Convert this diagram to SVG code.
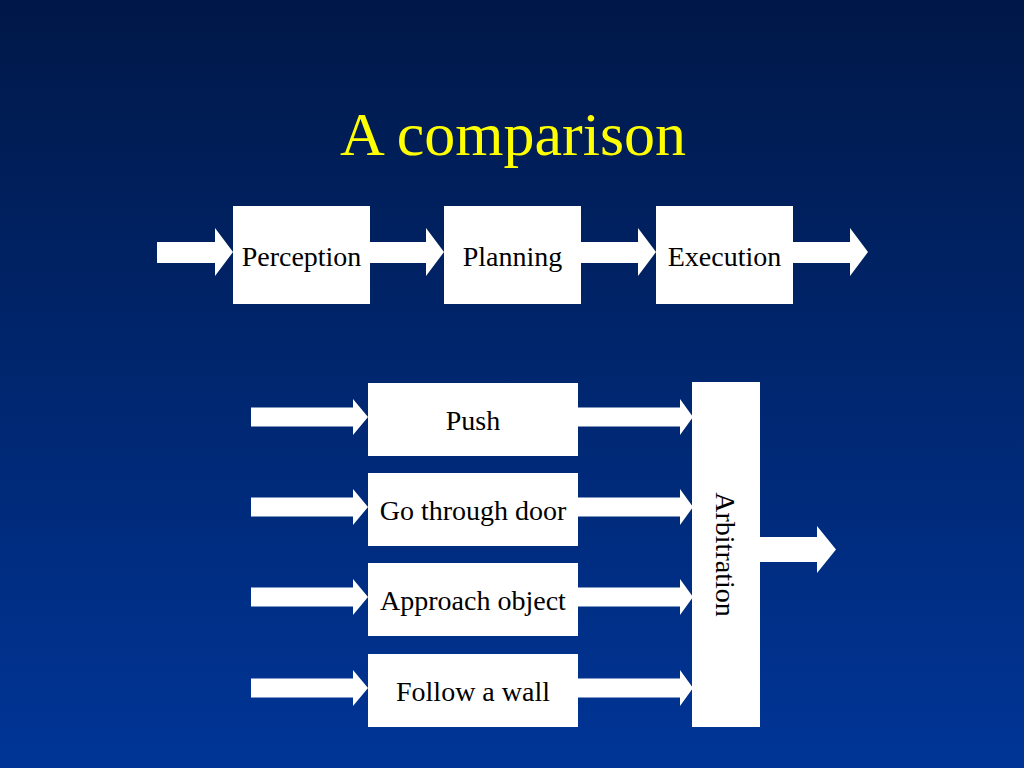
<svg xmlns="http://www.w3.org/2000/svg" width="1024" height="768" viewBox="0 0 1024 768">
  <defs>
    <linearGradient id="bg" x1="0" y1="0" x2="0" y2="1">
      <stop offset="0" stop-color="#001848"/>
      <stop offset="1" stop-color="#003597"/>
    </linearGradient>
  </defs>
  <style>
    .box { fill: #ffffff; }
    .arrow { fill: #ffffff; }
    .lbl { font-family: "Liberation Serif", "Times New Roman", serif; font-size: 28px; fill: #000000; text-anchor: middle; }
    .title { font-family: "Liberation Serif", "Times New Roman", serif; font-size: 62px; fill: #ffff00; text-anchor: middle; }
  </style>
  <rect x="0" y="0" width="1024" height="768" fill="url(#bg)"/>
  <text class="title" x="513" y="155">A comparison</text>

  <g id="connectors">
    <polygon class="arrow" points="157,242 215,242 215,228 233,252 215,276 215,263 157,263"/>
    <polygon class="arrow" points="370,242 426,242 426,228 444,252 426,276 426,263 370,263"/>
    <polygon class="arrow" points="581,242 638,242 638,228 656,252 638,276 638,263 581,263"/>
    <polygon class="arrow" points="793,242 850,242 850,228 868,252 850,276 850,263 793,263"/>

    <polygon class="arrow" points="251,407.5 353,407.5 353,399 368,417 353,435 353,426.5 251,426.5"/>
    <polygon class="arrow" points="251,497.5 353,497.5 353,489 368,507 353,525 353,516.5 251,516.5"/>
    <polygon class="arrow" points="251,587.5 353,587.5 353,579 368,597 353,615 353,606.5 251,606.5"/>
    <polygon class="arrow" points="251,678.5 353,678.5 353,670 368,688 353,706 353,697.5 251,697.5"/>

    <polygon class="arrow" points="578,407.5 680,407.5 680,399 693,417 680,435 680,426.5 578,426.5"/>
    <polygon class="arrow" points="578,497.5 680,497.5 680,489 693,507 680,525 680,516.5 578,516.5"/>
    <polygon class="arrow" points="578,587.5 680,587.5 680,579 693,597 680,615 680,606.5 578,606.5"/>
    <polygon class="arrow" points="578,678.5 680,678.5 680,670 693,688 680,706 680,697.5 578,697.5"/>

    <polygon class="arrow" points="760,537 817,537 817,526 836,549.5 817,573 817,562 760,562"/>
  </g>

  <g id="perception">
    <rect class="box" x="233" y="206" width="137" height="98"/>
    <text class="lbl" x="301.5" y="266">Perception</text>
  </g>
  <g id="planning">
    <rect class="box" x="444" y="206" width="137" height="98"/>
    <text class="lbl" x="512.5" y="266">Planning</text>
  </g>
  <g id="execution">
    <rect class="box" x="656" y="206" width="137" height="98"/>
    <text class="lbl" x="724.5" y="266">Execution</text>
  </g>

  <g id="push">
    <rect class="box" x="368" y="383" width="210" height="73"/>
    <text class="lbl" x="473" y="430">Push</text>
  </g>
  <g id="go-through-door">
    <rect class="box" x="368" y="473" width="210" height="73"/>
    <text class="lbl" x="473" y="520">Go through door</text>
  </g>
  <g id="approach-object">
    <rect class="box" x="368" y="563" width="210" height="73"/>
    <text class="lbl" x="473" y="610">Approach object</text>
  </g>
  <g id="follow-a-wall">
    <rect class="box" x="368" y="654" width="210" height="73"/>
    <text class="lbl" x="473" y="701">Follow a wall</text>
  </g>

  <g id="arbitration">
    <rect class="box" x="692" y="382" width="68" height="345"/>
    <text class="lbl" transform="translate(716,554.5) rotate(90)">Arbitration</text>
  </g>
</svg>
